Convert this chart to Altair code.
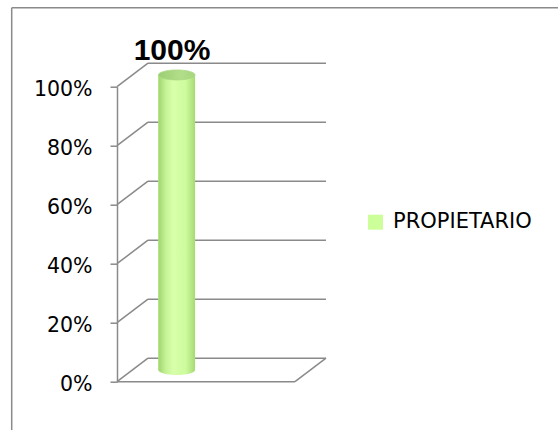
import altair as alt
import pandas as pd

# ---- data ----
categories = ["PROPIETARIO"]
values = [100]
value_labels = ["100%"]
tick_values = [0, 20, 40, 60, 80, 100]

df_bar = pd.DataFrame({"category": categories, "value": values, "label": value_labels})
df_ticks = pd.DataFrame({"tick": tick_values})

# ---- styling ----
GRAY = "#8a8a8a"
W, H = 178, 295
DX, DY = 31, -23.5          # depth of the 3D box
MX, MY = DX / 2, DY / 2     # cylinder sits mid-depth
BW = 36.7                   # cylinder width
ELLIPSE = ("M -1 0 C -1 -0.150 -0.552 -0.272 0 -0.272 C 0.552 -0.272 1 -0.150 1 0 "
           "C 1 0.150 0.552 0.272 0 0.272 C -0.552 0.272 -1 0.150 -1 0 Z")

body_grad = alt.LinearGradient(
    gradient="linear", x1=0, x2=1, y1=0, y2=0,
    stops=[alt.GradientStop(color="#9fd46e", offset=0),
           alt.GradientStop(color="#c4f296", offset=0.2),
           alt.GradientStop(color="#d8ffaa", offset=0.4),
           alt.GradientStop(color="#cdfb9e", offset=0.75),
           alt.GradientStop(color="#a6da74", offset=1)])
top_grad = alt.LinearGradient(
    gradient="linear", x1=0, x2=1, y1=0, y2=0,
    stops=[alt.GradientStop(color="#9ccd72", offset=0),
           alt.GradientStop(color="#b2de8a", offset=0.6),
           alt.GradientStop(color="#a6d67e", offset=1)])

yscale = alt.Scale(domain=[0, 100], nice=False, zero=True)
yaxis = alt.Axis(values=tick_values, labelExpr="datum.value + '%'", title=None, grid=False,
                 domainColor=GRAY, domainWidth=1.5, tickColor=GRAY, tickWidth=1.5, tickSize=7,
                 labelFont="DejaVu Sans", labelFontSize=20.5, labelColor="black",
                 labelPadding=18, labelOffset=2.5)
xscale = alt.Scale(paddingInner=0, paddingOuter=1, align=0.1225)
xenc = alt.X("category:N", scale=xscale, axis=None)

base_ticks = alt.Chart(df_ticks)
base_bar = alt.Chart(df_bar)

# outer frame
frame_left = base_bar.mark_rule(color=GRAY, strokeWidth=1.5).encode(
    x=alt.value(-105.3), y=alt.value(-79), y2=alt.value(400))
frame_top = base_bar.mark_rule(color=GRAY, strokeWidth=1.5).encode(
    x=alt.value(-105.3), x2=alt.value(500), y=alt.value(-79))

# back wall gridlines
grid = base_ticks.mark_rule(color=GRAY, strokeWidth=1.5, yOffset=DY).encode(
    x=alt.value(DX), x2=alt.value(W + DX),
    y=alt.Y("tick:Q", scale=yscale, axis=yaxis))
# side wall diagonals
diag = base_ticks.mark_rule(color=GRAY, strokeWidth=1.5, y2Offset=DY).encode(
    x=alt.value(0), x2=alt.value(DX),
    y=alt.Y("tick:Q", scale=yscale, axis=yaxis), y2="tick:Q")
# floor front edge and right diagonal
floor_front = base_ticks.transform_filter("datum.tick == 0").mark_rule(
    color=GRAY, strokeWidth=1.5).encode(
    x=alt.value(0), x2=alt.value(W),
    y=alt.Y("tick:Q", scale=yscale, axis=yaxis))
floor_right = base_ticks.transform_filter("datum.tick == 0").mark_rule(
    color=GRAY, strokeWidth=1.5, y2Offset=DY).encode(
    x=alt.value(W), x2=alt.value(W + DX),
    y=alt.Y("tick:Q", scale=yscale, axis=yaxis), y2="tick:Q")

# cylinder bottom ellipse
bottom = base_bar.mark_point(shape=ELLIPSE, size=BW * BW, filled=True, opacity=1,
                             fill=body_grad, strokeWidth=0, xOffset=MX, yOffset=MY).encode(
    x=xenc, y=alt.Y(datum=0, scale=yscale, axis=yaxis))

# legend carrier bar (hidden under the gradient bar)
legend_bar = base_bar.mark_bar(width=BW, xOffset=MX, x2Offset=MX, yOffset=MY, y2Offset=MY).encode(
    x=xenc, y=alt.Y("value:Q", scale=yscale, axis=yaxis),
    color=alt.Color("category:N", scale=alt.Scale(range=["#CCFF99"]),
                    legend=alt.Legend(title=None, orient="none", legendX=248, legendY=125,
                                      symbolType="square", symbolSize=225,
                                      symbolStrokeWidth=0, symbolOpacity=1,
                                      labelFont="DejaVu Sans", labelFontSize=21,
                                      labelColor="black", labelOffset=7, padding=0)))

body = base_bar.mark_bar(width=BW, fill=body_grad, xOffset=MX, x2Offset=MX,
                         yOffset=MY, y2Offset=MY).encode(
    x=xenc, y=alt.Y("value:Q", scale=yscale, axis=yaxis))

top = base_bar.mark_point(shape=ELLIPSE, size=BW * BW, filled=True, opacity=1,
                          fill=top_grad, stroke="#a9d985", strokeWidth=0.8,
                          xOffset=MX, yOffset=MY).encode(
    x=xenc, y=alt.Y("value:Q", scale=yscale, axis=yaxis))

label = base_bar.mark_text(font="Liberation Sans", fontWeight="bold", fontSize=30,
                           color="black", baseline="alphabetic", align="center",
                           dx=10.8, dy=-26.7).encode(
    x=xenc, y=alt.Y("value:Q", scale=yscale, axis=yaxis), text="label:N")

chart = alt.layer(frame_left, frame_top, grid, diag, floor_front, floor_right,
                  bottom, legend_bar, body, top, label).properties(
    width=W, height=H,
    autosize=alt.AutoSizeParams(type="none"),
    padding={"left": 117, "top": 86.7, "right": 558 - 117 - W, "bottom": 430 - 86.7 - H},
    background="white",
).configure_view(stroke=None)

chart.save("out.html", embed_options={"renderer": "svg", "actions": False})
